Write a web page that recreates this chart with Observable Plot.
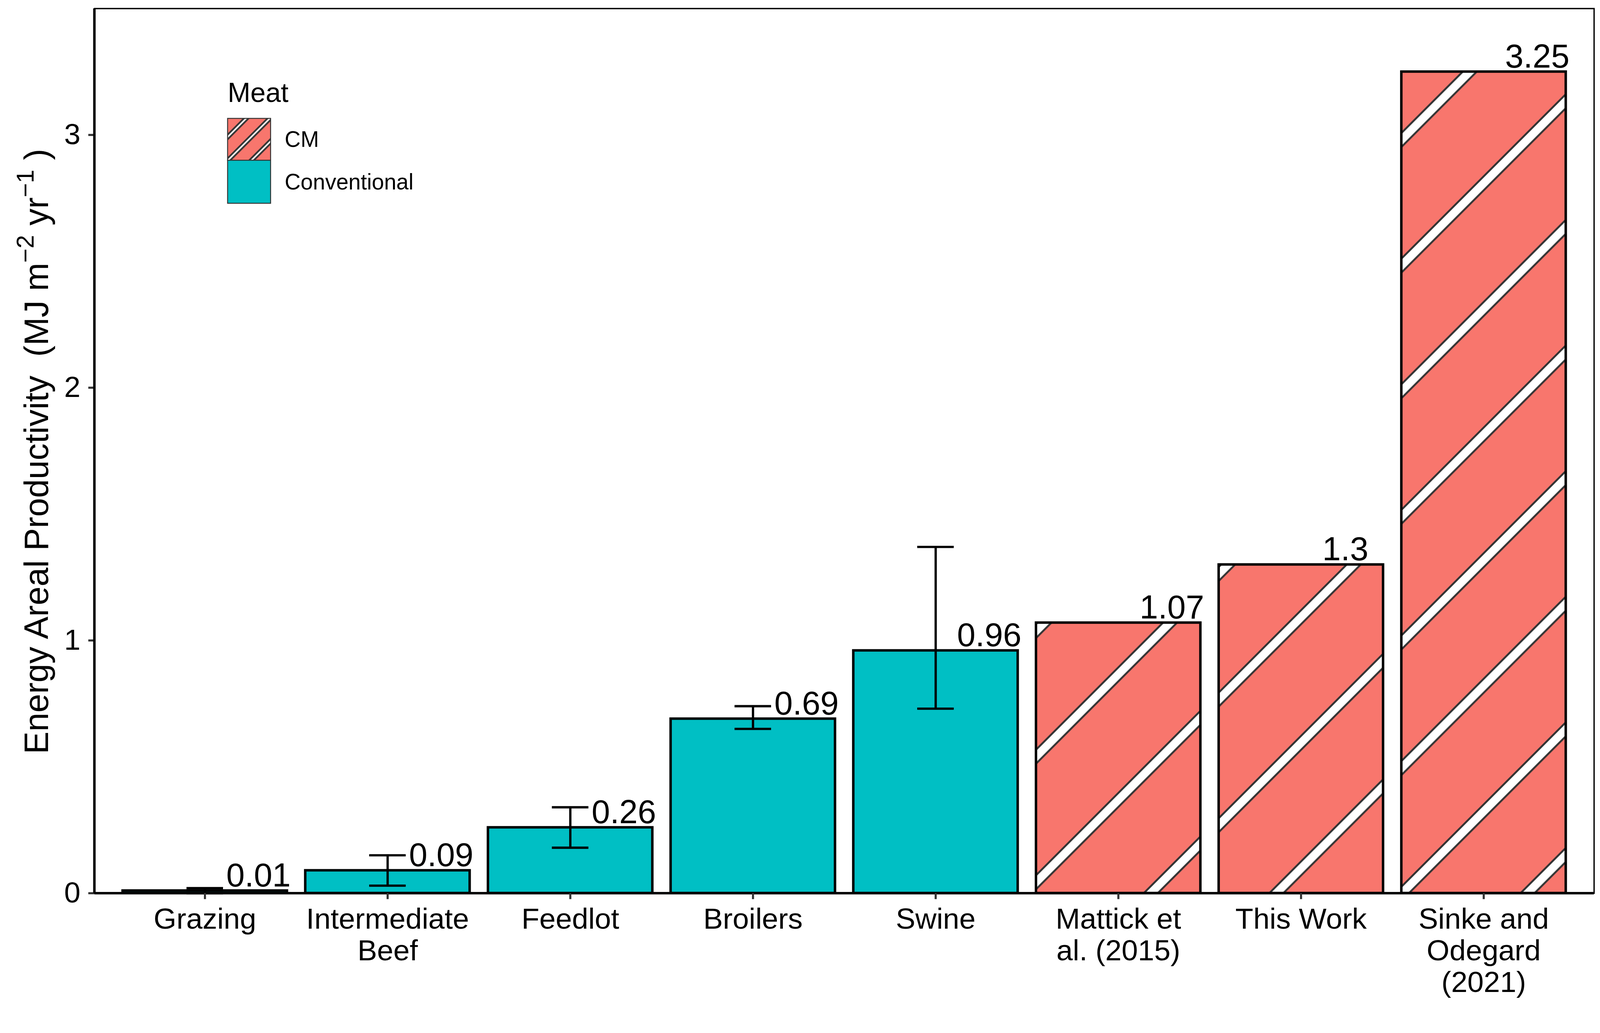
<!DOCTYPE html>
<html>
<head>
<meta charset="utf-8">
<script src="https://cdn.jsdelivr.net/npm/d3@7"></script>
<script src="https://cdn.jsdelivr.net/npm/@observablehq/plot@0.6"></script>
<style>
  html, body { margin: 0; padding: 0; background: #ffffff; }
  #chart svg { display: block; }
</style>
</head>
<body>
<div id="chart"></div>
<script>
// ---------------- data ----------------
const categories = ["Grazing", "Intermediate Beef", "Feedlot", "Broilers", "Swine",
  "Mattick et al. (2015)", "This Work", "Sinke and Odegard (2021)"];
const tickLabels = ["Grazing", "Intermediate\nBeef", "Feedlot", "Broilers", "Swine",
  "Mattick et\nal. (2015)", "This Work", "Sinke and\nOdegard\n(2021)"];
const meatType = ["Conventional", "Conventional", "Conventional", "Conventional", "Conventional",
  "CM", "CM", "CM"];
const values = [0.01, 0.09, 0.26, 0.69, 0.96, 1.07, 1.3, 3.25];
const errLow = [0.0, 0.03, 0.18, 0.65, 0.73, null, null, null];
const errHigh = [0.02, 0.15, 0.34, 0.74, 1.37, null, null, null];
const yTicks = [0, 1, 2, 3];
const legendTitle = "Meat";
const legendItems = ["CM", "Conventional"];

const rows = categories.map((c, i) => ({category: c, meat: meatType[i], value: values[i], lo: errLow[i], hi: errHigh[i]}));
const errRows = rows.filter(d => d.lo != null && d.hi != null);
const labelOf = Object.fromEntries(categories.map((c, i) => [c, tickLabels[i]]));

// ---------------- layout ----------------
const W = 4204, H = 2644;
const mL = 248, mR = 16, mT = 22, mB = 298;
const font = "'Liberation Sans', Arial, Helvetica, sans-serif";
const colCM = "#F8766D", colConv = "#00BFC4";

const plot = Plot.plot({
  width: W, height: H,
  marginLeft: mL, marginRight: mR, marginTop: mT, marginBottom: mB,
  style: {fontFamily: font, background: "white", color: "black", overflow: "visible"},
  x: {domain: categories, paddingInner: 0.1, paddingOuter: 0.15, align: 0.5, label: null},
  y: {domain: [0, 3.5], label: null},
  marks: [
    Plot.barY(rows.filter(d => d.meat === "Conventional"), {x: "category", y: "value", fill: colConv, stroke: "black", strokeWidth: 6.5}),
    Plot.barY(rows.filter(d => d.meat === "CM"), {x: "category", y: "value", fill: "url(#cmStripes)", stroke: "black", strokeWidth: 6.5}),
    Plot.ruleX(errRows, {x: "category", y1: "lo", y2: "hi", stroke: "black", strokeWidth: 6}),
    Plot.tickY(errRows, {x: "category", y: "lo", stroke: "black", strokeWidth: 6, insetLeft: 168, insetRight: 168}),
    Plot.tickY(errRows, {x: "category", y: "hi", stroke: "black", strokeWidth: 6, insetLeft: 168, insetRight: 168}),
    Plot.text(rows, {x: "category", y: "value", text: d => String(d.value), textAnchor: "start", lineAnchor: "bottom", dx: 56, dy: -11, fontSize: 87, fill: "black"}),
    Plot.frame({stroke: "black", strokeWidth: 3.5}),
    Plot.ruleY([0], {stroke: "black", strokeWidth: 6.5}),
    Plot.axisY({ticks: yTicks, tickSize: 16, tickPadding: 21, fontSize: 77, stroke: "#333333", strokeWidth: 5.5, label: null, tickFormat: d => String(d)}),
    Plot.axisX({tickSize: 16, tickPadding: 18, fontSize: 77, lineHeight: 1.08, stroke: "#333333", strokeWidth: 5.5, label: null, tickFormat: d => labelOf[d]})
  ]
});

const svg = d3.select(plot);
const defs = svg.insert("defs", ":first-child");

function stripePattern(id, period, phase, total, dark) {
  const P = period / Math.SQRT2, c = phase / Math.SQRT2;
  const p = defs.append("pattern").attr("id", id)
    .attr("patternUnits", "userSpaceOnUse")
    .attr("width", P).attr("height", 1000)
    .attr("patternTransform", "rotate(45)");
  p.append("rect").attr("x", -1).attr("width", P + 2).attr("height", 1000).attr("fill", colCM);
  p.append("rect").attr("x", c - total / 2).attr("width", total).attr("height", 1000).attr("fill", "#333333");
  p.append("rect").attr("x", c - total / 2 + dark).attr("width", total - 2 * dark).attr("height", 1000).attr("fill", "#FFFFFF");
}
stripePattern("cmStripes", 330, 90, 31, 5);
stripePattern("legStripes", 62, 28, 13, 4.5);

// left axis line
svg.append("line").attr("x1", mL).attr("x2", mL).attr("y1", mT).attr("y2", H - mB)
  .attr("stroke", "black").attr("stroke-width", 6.5);

// y-axis title
const yt = svg.append("text")
  .attr("transform", `translate(126,${(mT + H - mB) / 2 + 2}) rotate(-90)`)
  .attr("text-anchor", "middle").attr("font-family", font).attr("font-size", 89)
  .attr("fill", "black").style("white-space", "pre");
yt.append("tspan").text("Energy Areal Productivity  (MJ m");
yt.append("tspan").attr("font-size", 64).attr("dy", -38).text("\u22122");
yt.append("tspan").attr("dy", 38).text(" yr");
yt.append("tspan").attr("font-size", 64).attr("dy", -38).text("\u22121");
yt.append("tspan").attr("dy", 38).text(" )");

// legend
const lg = svg.append("g").attr("font-family", font).attr("fill", "black").attr("text-anchor", "start");
lg.append("text").attr("x", 598).attr("y", 268).attr("text-anchor", "start").attr("font-size", 72).text(legendTitle);
const keyY = [311, 421], keyH = [110, 113];
const keyFill = ["url(#legStripes)", colConv];
legendItems.forEach((name, i) => {
  lg.append("rect").attr("x", 598).attr("y", keyY[i]).attr("width", 113).attr("height", keyH[i])
    .attr("fill", keyFill[i]).attr("stroke", "#333333").attr("stroke-width", 2.5);
  lg.append("text").attr("x", 748).attr("y", keyY[i] + keyH[i] / 2).attr("dy", "0.35em")
    .attr("text-anchor", "start").attr("font-size", 58).text(name);
});

document.getElementById("chart").appendChild(plot);
</script>
</body>
</html>
